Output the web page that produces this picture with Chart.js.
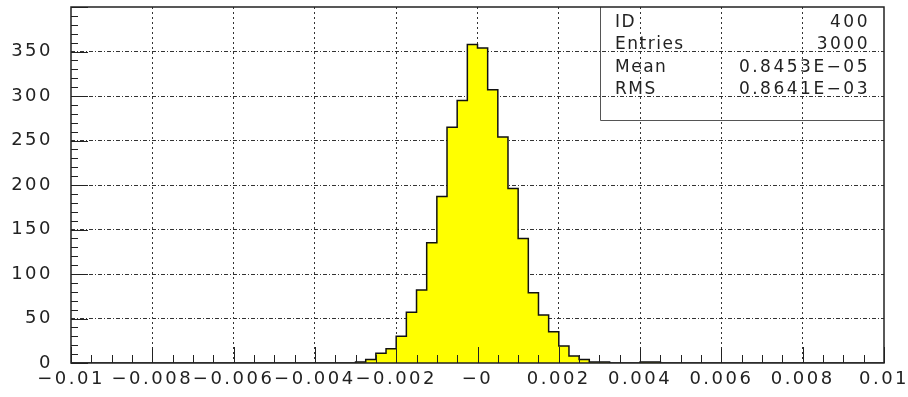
<!DOCTYPE html>
<html lang="en">
<head>
  <meta charset="UTF-8" />
  <title>Histogram 400</title>
  <script src="https://cdn.jsdelivr.net/npm/chart.js"></script>
  <style>
    * { box-sizing: border-box; }

    body {
      margin: 0;
      background: #ffffff;
    }

    .chart-container {
      width: 908px;
      height: 397px;
      position: relative;
    }
  </style>
</head>
<body>

  <div class="chart-container">
    <canvas id="histChart"></canvas>
  </div>

  <script>
    // Histogram binning: 80 bins from -0.01 to 0.01
    const histLow = -0.01;
    const histHigh = 0.01;
    const binWidth = 0.00025;

    // Bin contents, left to right
    const binCounts = [
      0, 0, 0, 0, 0, 0, 0, 0, 0, 0,
      0, 0, 0, 0, 0, 0, 0, 0, 0, 0,
      0, 0, 0, 0, 0, 0, 0, 0, 1, 4,
      11, 16, 30, 57, 82, 135, 187, 265, 295, 358,
      354, 307, 254, 196, 140, 79, 54, 35, 19, 8,
      4, 1, 1, 0, 0, 0, 1, 1, 0, 0,
      0, 0, 0, 0, 0, 0, 0, 0, 0, 0,
      0, 0, 0, 0, 0, 0, 0, 0, 0, 0
    ];

    // Axis ticks
    const xTickValues = [-0.01, -0.008, -0.006, -0.004, -0.002, 0, 0.002, 0.004, 0.006, 0.008, 0.01];
    const xTickLabels = ['\u22120.01', '\u22120.008', '\u22120.006', '\u22120.004', '\u22120.002', '\u22120',
                         '0.002', '0.004', '0.006', '0.008', '0.01'];
    const yTickValues = [0, 50, 100, 150, 200, 250, 300, 350];

    // Statistics box
    const statLabels = ['ID', 'Entries', 'Mean', 'RMS'];
    const statValues = ['400', '3000', '0.8453E\u221205', '0.8641E\u221203'];

    // Step outline points at the lower edge of each bin, closed at the upper edge
    const histPoints = binCounts.map((c, i) => ({ x: histLow + i * binWidth, y: c }));
    histPoints.push({ x: histHigh, y: 0 });

    const ink = '#222';
    const fontFamily = '"DejaVu Sans", sans-serif';

    // Frame, inward tick marks and the statistics box
    const framePlugin = {
      id: 'frame',
      beforeDraw(chart) {
        chart.ctx.letterSpacing = '2.5px';
      },
      afterDraw(chart) {
        const { ctx, chartArea: a, scales } = chart;
        const xs = scales.x, ys = scales.y;
        ctx.save();
        ctx.strokeStyle = ink;
        ctx.lineWidth = 1;

        // minor/major ticks on the left axis, every 10
        for (let v = 0; v <= 400; v += 10) {
          const y = Math.round(ys.getPixelForValue(v)) + 0.5;
          const len = v % 50 === 0 ? 17 : 7;
          ctx.beginPath();
          ctx.moveTo(a.left, y);
          ctx.lineTo(a.left + len, y);
          ctx.stroke();
        }
        // ticks on the bottom axis, every 0.0005
        for (let k = -20; k <= 20; k++) {
          const x = Math.round(xs.getPixelForValue(k * 0.0005)) + 0.5;
          const len = k % 4 === 0 ? 16 : 8;
          ctx.beginPath();
          ctx.moveTo(x, a.bottom);
          ctx.lineTo(x, a.bottom - len);
          ctx.stroke();
        }

        // statistics box, anchored to the top right corner
        const boxLeft = 600.5, boxBottom = 120.5;
        ctx.strokeStyle = '#555';
        ctx.lineWidth = 1;
        ctx.beginPath();
        ctx.moveTo(boxLeft, a.top);
        ctx.lineTo(boxLeft, boxBottom);
        ctx.lineTo(a.right, boxBottom);
        ctx.stroke();

        ctx.fillStyle = ink;
        ctx.font = '17px ' + fontFamily;
        ctx.textBaseline = 'alphabetic';
        statLabels.forEach((lab, i) => {
          const y = 27 + i * 22.4;
          ctx.textAlign = 'left';
          ctx.letterSpacing = '1.5px';
          ctx.fillText(lab, 615, y);
          ctx.textAlign = 'right';
          ctx.letterSpacing = '2.5px';
          ctx.fillText(statValues[i], 870, y);
        });

        // outer frame
        ctx.strokeStyle = ink;
        ctx.lineWidth = 1.5;
        ctx.strokeRect(a.left, a.top, a.right - a.left, a.bottom - a.top);
        ctx.restore();
      }
    };

    const ctx = document.getElementById('histChart').getContext('2d');
    const chart = new Chart(ctx, {
      type: 'line',
      data: {
        datasets: [{
          data: histPoints,
          stepped: 'before',
          fill: 'origin',
          backgroundColor: '#ffff00',
          borderColor: '#111',
          borderWidth: 1.5,
          pointRadius: 0,
          tension: 0
        }]
      },
      options: {
        responsive: true,
        maintainAspectRatio: false,
        animation: false,
        layout: {
          padding: { top: 7, right: 24, left: 0, bottom: 0 }
        },
        plugins: {
          legend: { display: false },
          tooltip: { enabled: false }
        },
        scales: {
          x: {
            type: 'linear',
            min: histLow,
            max: histHigh,
            z: 1,
            afterBuildTicks: s => { s.ticks = xTickValues.map(v => ({ value: v })); },
            afterFit: s => { s.height = 34; s.paddingLeft = 0; s.paddingRight = 0; },
            border: { display: false, dash: [2, 3] },
            grid: {
              drawTicks: false,
              lineWidth: 1,
              color: c => (c.index === 0 || c.index === xTickValues.length - 1) ? 'rgba(0,0,0,0)' : '#333'
            },
            ticks: {
              autoSkip: false,
              maxRotation: 0,
              minRotation: 0,
              padding: 6,
              color: ink,
              font: { family: fontFamily, size: 18 },
              callback: (v, i) => xTickLabels[i]
            }
          },
          y: {
            min: 0,
            max: 400,
            z: 1,
            afterBuildTicks: s => { s.ticks = yTickValues.map(v => ({ value: v })); },
            afterFit: s => { s.width = 71; s.paddingTop = 0; s.paddingBottom = 0; },
            border: { display: false, dash: [4, 2, 1, 2] },
            grid: {
              drawTicks: false,
              lineWidth: 1,
              color: c => c.index === 0 ? 'rgba(0,0,0,0)' : '#333'
            },
            ticks: {
              padding: 18,
              color: ink,
              font: { family: fontFamily, size: 18 },
              callback: v => String(v)
            }
          }
        }
      },
      plugins: [framePlugin]
    });
  </script>
</body>
</html>
